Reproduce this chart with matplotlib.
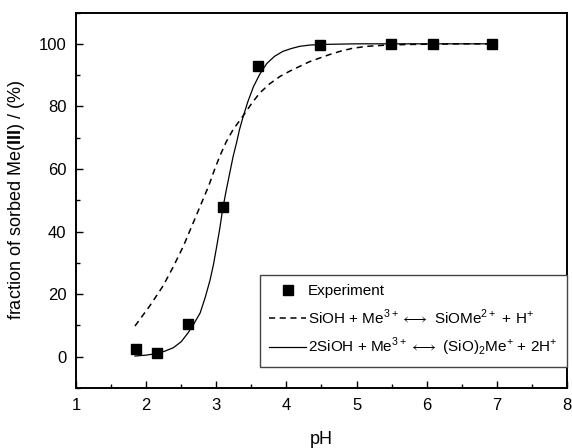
import matplotlib
matplotlib.use("Agg")
import matplotlib.pyplot as plt
from matplotlib.ticker import MultipleLocator

plt.rcParams['font.family'] = ['Liberation Sans', 'DejaVu Sans']
plt.rcParams['mathtext.fontset'] = 'custom'
plt.rcParams['mathtext.rm'] = 'Liberation Sans'
plt.rcParams['mathtext.bf'] = 'Liberation Sans:bold'

# experiment
ph_exp = [1.85, 2.15, 2.59, 3.09, 3.6, 4.48, 5.49, 6.09, 6.93]
sorbed_exp = [2.6, 1.1, 10.4, 47.8, 92.8, 99.5, 100.0, 100.0, 100.0]

# model: SiOH + Me3+ <-> SiOMe2+ + H+  (dashed)
ph_mono = [1.84, 2.05, 2.24, 2.39, 2.53, 2.65, 2.77, 2.89, 2.97, 3.05, 3.14, 3.24,
           3.38, 3.5, 3.62, 3.76, 3.91, 4.05, 4.19, 4.33, 4.48, 4.62, 4.78, 4.95,
           5.15, 5.43, 5.75, 6.09, 6.5, 6.93]
sorbed_mono = [9.8, 16.2, 22.6, 28.9, 35.3, 41.7, 48.1, 54.5, 59.5, 64.1, 68.6, 72.6,
               76.9, 80.8, 84.3, 87.2, 89.6, 91.3, 92.8, 94.3, 95.5, 96.6, 97.7, 98.6,
               99.2, 99.6, 99.8, 99.9, 100.0, 100.0]

# model: 2SiOH + Me3+ <-> (SiO)2Me+ + 2H+  (solid)
ph_bi = [1.84, 2.0, 2.15, 2.27, 2.39, 2.5, 2.6, 2.68, 2.77, 2.84, 2.91, 2.96,
         3.0, 3.05, 3.09, 3.14, 3.19, 3.24, 3.29, 3.33, 3.38, 3.45, 3.53, 3.62,
         3.72, 3.83, 3.95, 4.07, 4.19, 4.33, 4.48, 4.75, 5.0, 5.5, 6.0, 6.5, 6.93]
sorbed_bi = [0.2, 0.5, 1.0, 1.8, 2.9, 4.8, 7.7, 10.5, 14.0, 18.8, 24.4, 29.5,
             34.5, 41.0, 47.0, 53.0, 58.5, 64.0, 68.5, 72.5, 76.5, 81.5, 86.3, 90.3,
             93.7, 96.0, 97.6, 98.5, 99.2, 99.6, 99.8, 99.9, 100.0, 100.0, 100.0,
             100.0, 100.0]

fig = plt.figure(figsize=(5.72, 4.48), dpi=100)
ax = fig.add_axes([0.133, 0.134, 0.858, 0.838])

ax.plot(ph_exp, sorbed_exp, linestyle='none', marker='s', markersize=6.5,
        color='black', label='Experiment')
ax.plot(ph_mono, sorbed_mono, color='black', linestyle=(0, (4, 3)), linewidth=1.1,
        label=r'SiOH + Me$^{3+}$$\longleftrightarrow$ SiOMe$^{2+}$ + H$^{+}$')
ax.plot(ph_bi, sorbed_bi, color='black', linestyle='-', linewidth=0.9,
        label=r'2SiOH + Me$^{3+}$$\longleftrightarrow$ (SiO)$_2$Me$^{+}$ + 2H$^{+}$')

ax.set_xlim(1, 8)
ax.set_ylim(-10, 110)
ax.xaxis.set_major_locator(MultipleLocator(1))
ax.xaxis.set_minor_locator(MultipleLocator(0.5))
ax.yaxis.set_major_locator(MultipleLocator(20))
ax.yaxis.set_minor_locator(MultipleLocator(10))
ax.tick_params(which='both', direction='in', top=False, right=False,
               labelsize=12, width=1.0)
ax.tick_params(which='major', length=5, pad=7)
ax.tick_params(which='minor', length=3)
for sp in ax.spines.values():
    sp.set_linewidth(1.4)

ax.set_xlabel('pH', fontsize=13, labelpad=13)
ax.set_ylabel(r'fraction of sorbed Me($\mathbf{III}$) / (%)', fontsize=13, labelpad=8)

leg = ax.legend(loc='lower right', bbox_to_anchor=(1.0, 0.055), fontsize=11,
                fancybox=False, edgecolor='#444444', framealpha=1,
                handlelength=2.4, handletextpad=0.15, borderpad=0.6,
                labelspacing=0.6, borderaxespad=0.0)
leg.get_frame().set_linewidth(1.0)

fig.savefig('out.png', dpi=100)
